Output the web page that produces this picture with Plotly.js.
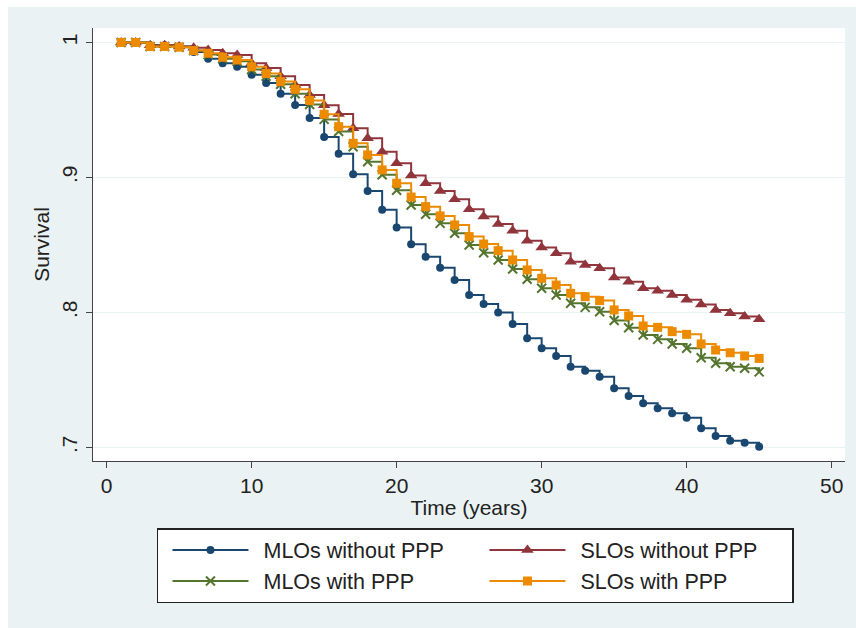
<!DOCTYPE html>
<html>
<head>
<meta charset="utf-8">
<script src="https://cdn.plot.ly/plotly-3.0.1.min.js"></script>
<style>
  html, body { margin: 0; padding: 0; background: #ffffff; width: 856px; height: 628px; overflow: hidden; }
  #chart { position: absolute; left: 8px; top: 7px; width: 848px; height: 621px; }
</style>
</head>
<body>
<div id="chart"></div>
<script>
// Time points (years)
const years = [1,2,3,4,5,6,7,8,9,10,11,12,13,14,15,16,17,18,19,20,21,22,23,24,25,26,27,28,29,30,31,32,33,34,35,36,37,38,39,40,41,42,43,44,45];

// Survival estimates
const mloWithoutPPP = [1.000,1.000,0.998,0.998,0.997,0.993,0.988,0.9846,0.982,0.976,0.970,0.962,0.9537,0.944,0.930,0.9176,0.9024,0.890,0.876,0.863,0.8505,0.8413,0.8332,0.824,0.813,0.8063,0.800,0.7915,0.781,0.7735,0.7678,0.7598,0.7569,0.7524,0.7438,0.7381,0.7327,0.729,0.7253,0.722,0.7142,0.7085,0.705,0.7035,0.7006];
const sloWithoutPPP = [1.000,1.000,0.998,0.998,0.997,0.996,0.9944,0.992,0.9907,0.9846,0.981,0.975,0.9685,0.961,0.9535,0.947,0.9364,0.929,0.919,0.9105,0.9015,0.8957,0.890,0.8838,0.8764,0.871,0.8656,0.8606,0.8532,0.8482,0.8438,0.8376,0.8352,0.8327,0.826,0.8228,0.8179,0.8161,0.813,0.8095,0.806,0.8019,0.7994,0.797,0.795];
const mloWithPPP = [1.000,1.000,0.997,0.997,0.9965,0.994,0.991,0.988,0.986,0.980,0.975,0.969,0.962,0.954,0.943,0.934,0.9228,0.9117,0.902,0.8905,0.8796,0.8727,0.866,0.8587,0.850,0.8443,0.8389,0.8322,0.8246,0.8179,0.813,0.8068,0.8038,0.8006,0.794,0.7887,0.7833,0.7801,0.7767,0.7735,0.7665,0.7624,0.7598,0.7587,0.756];
const sloWithPPP = [1.000,1.000,0.997,0.997,0.9965,0.994,0.992,0.989,0.987,0.982,0.977,0.971,0.9653,0.957,0.9468,0.9376,0.9253,0.9167,0.9056,0.8957,0.8855,0.8784,0.8715,0.8648,0.8562,0.8507,0.8458,0.8389,0.8315,0.8253,0.8203,0.8142,0.8117,0.8088,0.8019,0.7974,0.790,0.789,0.7858,0.7838,0.7767,0.7722,0.7702,0.7678,0.766];

const seriesNames = ["MLOs without PPP", "SLOs without PPP", "MLOs with PPP", "SLOs with PPP"];

const xTickVals = [0,10,20,30,40,50];
const yTickVals = [0.7,0.8,0.9,1];
const yTickText = [".7",".8",".9","1"];

const navy = "#1a476f", maroon = "#90353b", green = "#55752f", orange = "#ec8a00";

function tr(name, y, color, marker) {
  return {
    type: "scatter", mode: "lines+markers", name: name,
    x: years, y: y,
    line: { color: color, width: 2, shape: "hv" },
    marker: marker,
    cliponaxis: false
  };
}

const data = [
  tr(seriesNames[0], mloWithoutPPP, navy, { symbol: "circle", size: 8, color: navy }),
  tr(seriesNames[1], sloWithoutPPP, maroon, { symbol: "triangle-up", size: 11, color: maroon }),
  tr(seriesNames[2], mloWithPPP, green, { symbol: "x-thin", size: 9, color: green, line: { color: green, width: 2 } }),
  tr(seriesNames[3], sloWithPPP, orange, { symbol: "square", size: 9, color: orange })
];

const font = "Liberation Sans, Arial, sans-serif";

const layout = {
  width: 848, height: 621,
  paper_bgcolor: "#eaf2f3",
  plot_bgcolor: "#ffffff",
  margin: { l: 85, r: 11, t: 21, b: 167 },
  font: { family: font, size: 21, color: "#222222" },
  showlegend: true,
  xaxis: {
    range: [-0.94, 50.92],
    tickvals: xTickVals,
    ticks: "outside", ticklen: 6, tickwidth: 1.2, tickcolor: "#444444",
    showline: true, linecolor: "#444444", linewidth: 1.2,
    showgrid: false, zeroline: false,
    tickfont: { size: 21, color: "#222222" },
    title: { text: "Time (years)", font: { size: 21, color: "#222222" }, standoff: 3 }
  },
  yaxis: {
    range: [0.69, 1.0107],
    tickvals: yTickVals, ticktext: yTickText,
    tickangle: -90,
    ticks: "outside", ticklen: 6, tickwidth: 1.2, tickcolor: "#444444",
    showline: true, linecolor: "#444444", linewidth: 1.2,
    showgrid: true, gridcolor: "#eaf2f3", gridwidth: 1.2,
    zeroline: false,
    tickfont: { size: 21, color: "#222222" },
    title: { text: "Survival", font: { size: 21, color: "#222222" }, standoff: 3 }
  },
  legend: {
    orientation: "h",
    x: 0.5086, xanchor: "center",
    y: -0.155, yanchor: "top",
    bgcolor: "#ffffff",
    bordercolor: "#222222", borderwidth: 1.5,
    font: { size: 21.5, color: "#222222" },
    itemwidth: 95,
    entrywidth: 207,
    traceorder: "normal"
  }
};

Plotly.newPlot("chart", data, layout, { displayModeBar: false, staticPlot: true }).then(function (gd) {
  // Stretch legend line samples across the symbol area (Stata style), marker in the middle
  gd.querySelectorAll(".legend .traces").forEach(function (t) {
    t.querySelectorAll(".legendlines path").forEach(function (p) { p.setAttribute("d", "M14,0h76"); });
    t.querySelectorAll(".legendsymbols path.scatterpts").forEach(function (p) { p.setAttribute("transform", "translate(52,0)"); });
  });
});
</script>
</body>
</html>
